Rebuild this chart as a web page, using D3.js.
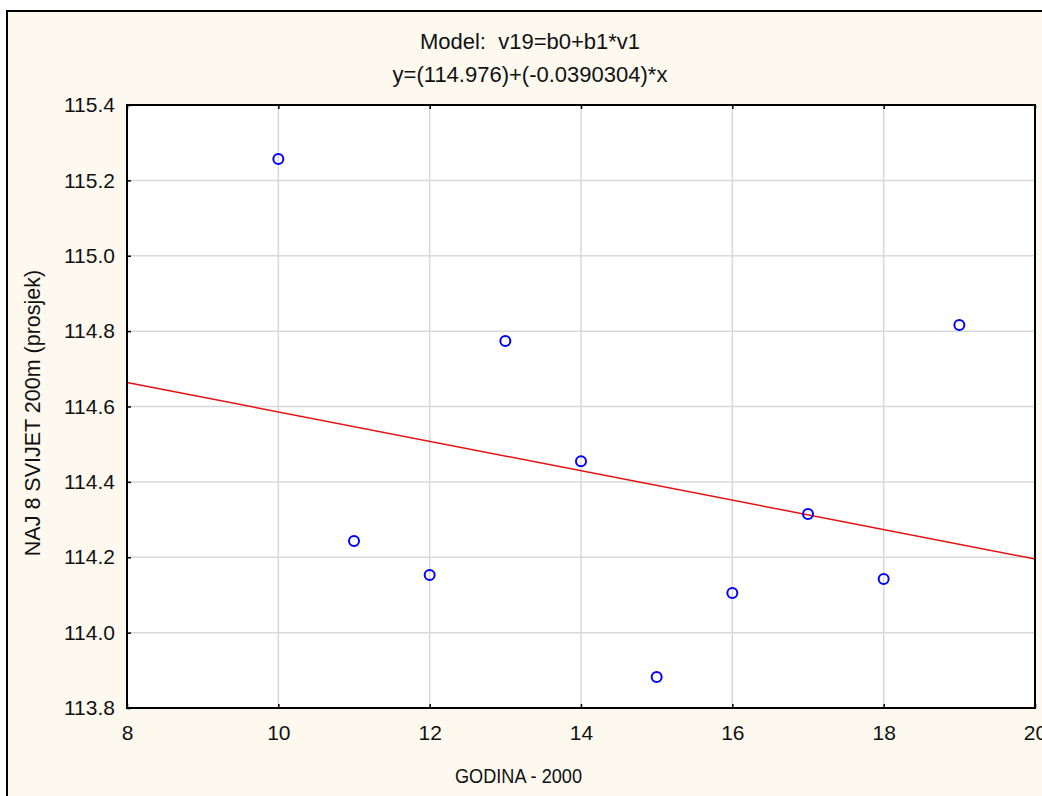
<!DOCTYPE html>
<html><head><meta charset="utf-8">
<script src="https://cdn.jsdelivr.net/npm/d3@7"></script>
<style>
html,body{margin:0;padding:0;background:#fff;}
svg{display:block;font-family:"Liberation Sans",Arial,sans-serif;}
</style></head>
<body>
<svg id="c" width="1042" height="796"></svg>
<script>
const years = [10, 11, 12, 13, 14, 15, 16, 17, 18, 19];
const values = [115.257, 114.243, 114.153, 114.774, 114.455, 113.882, 114.105, 114.315, 114.142, 114.816];
const coefB0 = 114.976;
const coefB1 = -0.0390304;
const xTicks = [8, 10, 12, 14, 16, 18, 20];
const yTicks = [113.8, 114.0, 114.2, 114.4, 114.6, 114.8, 115.0, 115.2, 115.4];
const titleLines = ["Model:  v19=b0+b1*v1", "y=(114.976)+(-0.0390304)*x"];
const xTitle = "GODINA - 2000";
const yTitle = "NAJ 8 SVIJET 200m (prosjek)";

const svg = d3.select("#c");
const L = 127, R = 1035, T = 105, B = 708;
const x = d3.scaleLinear().domain([8, 20]).range([L, R]);
const y = d3.scaleLinear().domain([113.8, 115.4]).range([B, T]);

// outer frame
svg.append("rect").attr("x", 7).attr("y", 11).attr("width", 1060).attr("height", 800)
  .attr("fill", "#fdf9ef").attr("stroke", "#000").attr("stroke-width", 2);

// plot area
svg.append("rect").attr("x", L).attr("y", T).attr("width", R - L).attr("height", B - T).attr("fill", "#fff");

// grid
svg.append("g").selectAll("line").data(xTicks.slice(1, -1)).join("line")
  .attr("x1", d => x(d)).attr("x2", d => x(d)).attr("y1", T).attr("y2", B)
  .attr("stroke", "#d8d8d8").attr("stroke-width", 1.5);
svg.append("g").selectAll("line").data(yTicks.slice(1, -1)).join("line")
  .attr("y1", d => y(d)).attr("y2", d => y(d)).attr("x1", L).attr("x2", R)
  .attr("stroke", "#d8d8d8").attr("stroke-width", 1.5);

// axes
const fmt = d3.format(".1f");
const yAxis = svg.append("g").attr("transform", `translate(${L},0)`)
  .call(d3.axisLeft(y).tickValues(yTicks).tickFormat(fmt).tickSizeInner(-4).tickSizeOuter(0).tickPadding(12));
const xAxis = svg.append("g").attr("transform", `translate(0,${B})`)
  .call(d3.axisBottom(x).tickValues(xTicks).tickFormat(d3.format("d")).tickSizeInner(-4).tickSizeOuter(0).tickPadding(17));
const xTop = svg.append("g").attr("transform", `translate(0,${T})`)
  .call(d3.axisTop(x).tickValues(xTicks).tickFormat("").tickSizeInner(-4).tickSizeOuter(0));
[yAxis, xAxis, xTop].forEach(g => {
  g.select(".domain").remove();
  g.selectAll(".tick line").attr("stroke", "#000").attr("stroke-width", 1.5);
  g.selectAll("text").attr("font-size", 21).attr("fill", "#111")
    .attr("font-family", "'Liberation Sans',Arial,sans-serif");
});

// regression line
const fit = d => coefB0 + coefB1 * d;
svg.append("line")
  .attr("x1", x(8)).attr("y1", y(fit(8))).attr("x2", x(20)).attr("y2", y(fit(20)))
  .attr("stroke", "#e81010").attr("stroke-width", 1.5);

// points
svg.append("g").selectAll("circle").data(years).join("circle")
  .attr("cx", d => x(d)).attr("cy", (d, i) => y(values[i])).attr("r", 5)
  .attr("fill", "none").attr("stroke", "#0000ff").attr("stroke-width", 2);

// plot border
svg.append("rect").attr("x", L).attr("y", T).attr("width", R - L).attr("height", B - T)
  .attr("fill", "none").attr("stroke", "#000").attr("stroke-width", 2);

// titles
svg.append("g").selectAll("text").data(titleLines).join("text")
  .attr("x", 530).attr("y", (d, i) => 49 + i * 33)
  .attr("text-anchor", "middle").attr("font-size", 22).attr("fill", "#111")
  .style("white-space", "pre").text(d => d);
svg.append("text").attr("x", 455).attr("y", 783)
  .attr("font-size", 20).attr("fill", "#111")
  .attr("textLength", 127).attr("lengthAdjust", "spacingAndGlyphs").text(xTitle);
svg.append("text").attr("transform", "translate(40,413) rotate(-90)").attr("text-anchor", "middle")
  .attr("font-size", 21.5).attr("fill", "#111").text(yTitle);
</script>
</body></html>
